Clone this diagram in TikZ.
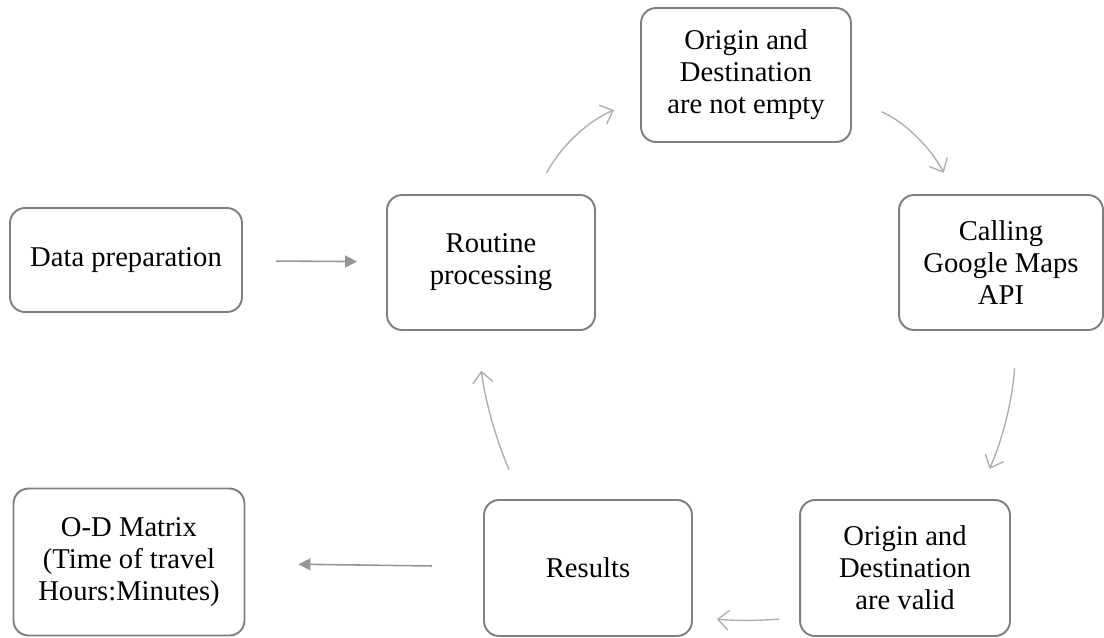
\documentclass[tikz,border=0pt]{standalone}
\usepackage{fontspec}
\setmainfont{Liberation Serif}
\usetikzlibrary{arrows.meta}
\definecolor{boxgray}{HTML}{7F7F7F}
\definecolor{arrgray}{HTML}{B0B0B0}

\begin{document}
\begin{tikzpicture}[x=0.02cm,y=-0.02cm]
        \tikzstyle{box}=[draw=boxgray,line width=1.1pt,rounded corners=0.3cm,align=center,font=\fontsize{16.3}{18.2}\selectfont,inner sep=0pt]
        \tikzstyle{cyc}=[arrgray,line width=0.8pt,-{Straight Barb[length=0.22cm,width=0.4cm]}]
        \tikzstyle{flat}=[arrgray!85!black,line width=0.9pt,-{Triangle[length=0.24cm,width=0.24cm]}]
        \useasboundingbox (0,0) rectangle (1104,637);

        \node[box,minimum width=4.64cm,minimum height=2.08cm] (prep) at (126,260) {Data preparation};
        \node[box,minimum width=4.16cm,minimum height=2.7cm] (routine) at (491,262.5) {Routine\\processing};
        \node[box,minimum width=4.2cm,minimum height=2.68cm] (notempty) at (746,75) {Origin and\\Destination\\are not empty};
        \node[box,minimum width=4.08cm,minimum height=2.7cm] (calling) at (1001,262.5) {Calling\\Google Maps\\API};
        \node[box,minimum width=4.2cm,minimum height=2.72cm] (valid) at (905,568) {Origin and\\Destination\\are valid};
        \node[box,minimum width=4.16cm,minimum height=2.72cm] (results) at (588,568) {Results};
        \node[box,minimum width=4.62cm,minimum height=2.94cm] (odm) at (129,562) {O-D Matrix\\(Time of travel\\Hours:Minutes)};

        % main loop
        \draw[cyc,shorten <=0.48cm,shorten >=0.56cm] (routine.57) to [bend left=20] (notempty.193);
        \draw[cyc,shorten <=0.64cm,shorten >=0.48cm] (notempty.-13) to [bend left=20] (calling.124);
        \draw[cyc,shorten <=0.74cm,shorten >=0.66cm] (calling.-77) to [bend left=10] (valid.44);
        \draw[cyc,shorten <=0.4cm,shorten >=0.48cm] (valid.205) to [bend left=5] (results.-25);
        \draw[cyc,shorten <=0.64cm,shorten >=0.8cm] (results.134) to [bend left=8] (routine.-102);

        \draw[flat,shorten <=0.66cm,shorten >=0.58cm] (prep) -- (routine);
        \draw[flat,shorten <=1.02cm,shorten >=1.06cm] (results) -- (odm);
    \end{tikzpicture}
\end{document}
